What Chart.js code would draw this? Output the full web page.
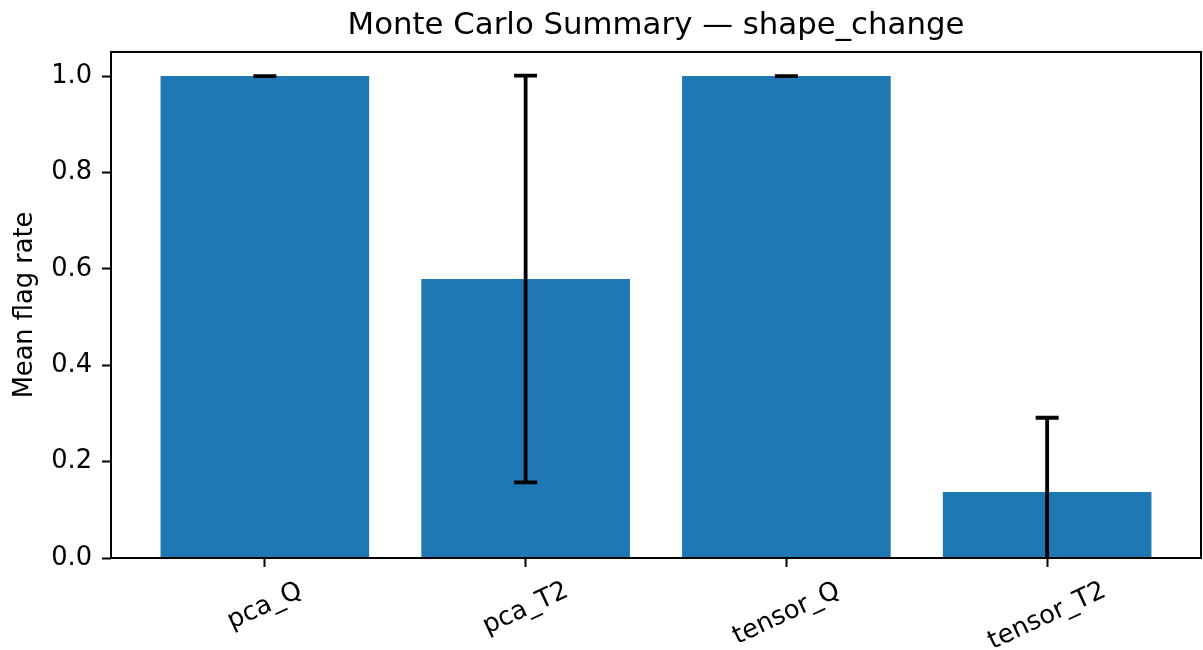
<!DOCTYPE html>
<html>
<head>
<meta charset="utf-8">
<script src="https://cdn.jsdelivr.net/npm/chart.js@4.4.1/dist/chart.umd.min.js"></script>
<style>
  html, body { margin: 0; padding: 0; background: #fff; }
  #wrap { width: 1203px; height: 650px; position: relative; }
</style>
</head>
<body>
<div id="wrap"><canvas id="summaryChart"></canvas></div>
<script>
// ---------- data ----------
const categories = ["pca_Q", "pca_T2", "tensor_Q", "tensor_T2"];
const meanRates = [1.0, 0.579, 1.0, 0.137];
const stdRates = [0.0, 0.422, 0.0, 0.154];
const yTicks = [0.0, 0.2, 0.4, 0.6, 0.8, 1.0];
const chartTitle = "Monte Carlo Summary — shape_change";
const yLabel = "Mean flag rate";

const FONT = '"DejaVu Sans", sans-serif';
const TICK_PX = 25.7;
const TICK_LEN = 9;
const LABEL_ROT = 25;

// error bars, frame and centred rotated x labels (matplotlib style)
const mplExtras = {
    id: "mplExtras",
    afterDatasetsDraw(chart) {
        const { ctx, chartArea: a, scales } = chart;
        ctx.save();
        ctx.beginPath();
        ctx.rect(a.left, a.top, a.right - a.left, a.bottom - a.top);
        ctx.clip();
        ctx.strokeStyle = "#000";
        ctx.lineWidth = 3.8;
        for (let i = 0; i < categories.length; i++) {
            const x = scales.x.getPixelForValue(i);
            const yLo = scales.y.getPixelForValue(meanRates[i] - stdRates[i]);
            const yHi = scales.y.getPixelForValue(meanRates[i] + stdRates[i]);
            ctx.beginPath();
            ctx.moveTo(x, yLo);
            ctx.lineTo(x, yHi);
            ctx.moveTo(x - 11.5, yLo);
            ctx.lineTo(x + 11.5, yLo);
            ctx.moveTo(x - 11.5, yHi);
            ctx.lineTo(x + 11.5, yHi);
            ctx.stroke();
        }
        ctx.restore();
    },
    afterDraw(chart) {
        const { ctx, chartArea: a, scales } = chart;
        ctx.save();
        ctx.strokeStyle = "#000";
        ctx.lineWidth = 2;
        ctx.strokeRect(a.left, a.top, a.right - a.left, a.bottom - a.top);

        ctx.font = TICK_PX + "px " + FONT;
        ctx.fillStyle = "#000";
        ctx.textAlign = "center";
        ctx.textBaseline = "middle";
        const th = (LABEL_ROT * Math.PI) / 180;
        const h = TICK_PX * 1.164;
        const top = a.bottom + TICK_LEN + 9;
        categories.forEach((name, i) => {
            const x = scales.x.getPixelForValue(i);
            const w = ctx.measureText(name).width;
            const H = w * Math.sin(th) + h * Math.cos(th);
            ctx.save();
            ctx.translate(x, top + H / 2);
            ctx.rotate(-th);
            ctx.fillText(name, 0, 0);
            ctx.restore();
        });
        ctx.restore();
    },
};

const ctx = document.getElementById("summaryChart").getContext("2d");
new Chart(ctx, {
    type: "bar",
    data: {
        datasets: [
            {
                data: categories.map((c, i) => ({ x: i, y: meanRates[i] })),
                backgroundColor: "#1f77b4",
                borderWidth: 0,
                categoryPercentage: 1.0,
                barPercentage: 0.8,
            },
        ],
    },
    options: {
        responsive: true,
        maintainAspectRatio: false,
        animation: false,
        devicePixelRatio: 1,
        layout: { padding: { left: 0, right: 2, top: 0, bottom: 0 } },
        scales: {
            x: {
                type: "linear",
                offset: false,
                min: -0.59,
                max: 3.59,
                afterBuildTicks: (s) => {
                    s.ticks = categories.map((c, i) => ({ value: i }));
                },
                afterFit: (s) => {
                    s.height = 92;
                },
                ticks: { display: false },
                grid: {
                    offset: false,
                    drawOnChartArea: false,
                    drawTicks: true,
                    tickLength: TICK_LEN,
                    tickWidth: 2,
                    tickColor: "#000",
                },
                border: { display: false },
            },
            y: {
                min: 0,
                max: 1.05,
                afterBuildTicks: (s) => {
                    s.ticks = yTicks.map((v) => ({ value: v }));
                },
                afterFit: (s) => {
                    s.width = 111;
                },
                ticks: {
                    color: "#000",
                    padding: 10,
                    font: { family: FONT, size: TICK_PX },
                    callback: (v) => Number(v).toFixed(1),
                },
                grid: {
                    drawOnChartArea: false,
                    drawTicks: true,
                    tickLength: TICK_LEN,
                    tickWidth: 2,
                    tickColor: "#000",
                },
                border: { display: false },
                title: {
                    display: true,
                    text: yLabel,
                    color: "#000",
                    font: { family: FONT, size: TICK_PX },
                    padding: { top: 10, bottom: 0 },
                },
            },
        },
        plugins: {
            legend: { display: false },
            tooltip: { enabled: false },
            title: {
                display: true,
                text: chartTitle,
                fullSize: false,
                color: "#000",
                font: { family: FONT, size: 30.8, weight: "normal" },
                padding: { top: 8, bottom: 7 },
            },
        },
    },
    plugins: [mplExtras],
});
</script>
</body>
</html>
